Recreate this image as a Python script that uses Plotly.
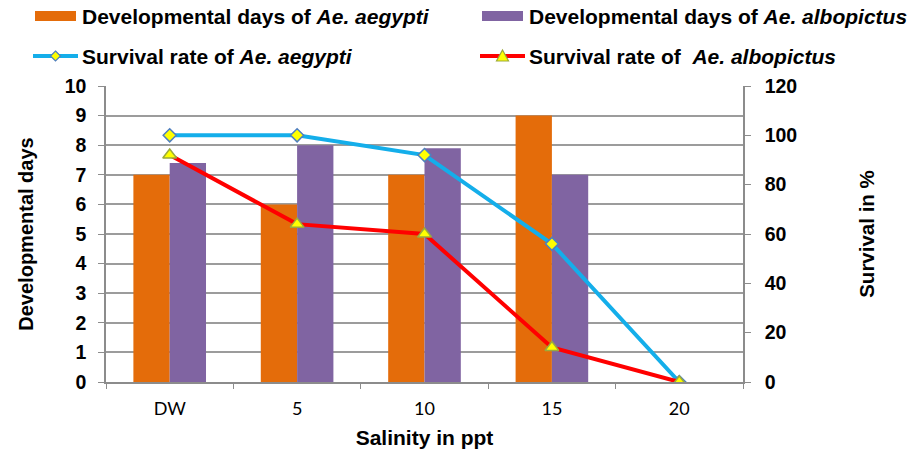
import plotly.graph_objects as go

# Salinity levels and measured values
salinity = ["DW", "5", "10", "15", "20"]
dev_days_aegypti = [7, 6, 7, 9, 0]
dev_days_albopictus = [7.4, 8, 7.9, 7, 0]
survival_aegypti = [100, 100, 92, 56, 0]
survival_albopictus = [92, 64, 60, 14, 0]

W, H = 917, 454
L, R, T, B = 106, 743, 86, 382

ORANGE = "#E46C0A"
PURPLE = "#8064A2"
BLUE = "#14AEEA"
RED = "#FF0000"
YELLOW = "#FFFF00"
GRID = "#9C9C9C"
AXIS = "#8C8C8C"
BOLD_FONT = "Liberation Sans"


def px(x):
    return (x - L) / (R - L)


def py(y):
    return (B - y) / (B - T)


fig = go.Figure()

fig.add_trace(go.Bar(
    x=salinity, y=dev_days_aegypti, name="Developmental days of Ae. aegypti",
    marker=dict(color=ORANGE, line=dict(width=0)), showlegend=False,
))
fig.add_trace(go.Bar(
    x=salinity, y=dev_days_albopictus, name="Developmental days of Ae. albopictus",
    marker=dict(color=PURPLE, line=dict(width=0)), showlegend=False,
))
fig.add_trace(go.Scatter(
    x=salinity, y=survival_aegypti, yaxis="y2", mode="lines+markers",
    name="Survival rate of Ae. aegypti",
    line=dict(color=BLUE, width=4),
    marker=dict(symbol="diamond", size=10, color=YELLOW,
                line=dict(color="#4F7FBF", width=1.5)),
    showlegend=False,
))
fig.add_trace(go.Scatter(
    x=salinity, y=survival_albopictus, yaxis="y2", mode="lines+markers",
    name="Survival rate of Ae. albopictus",
    line=dict(color=RED, width=4),
    marker=dict(symbol="triangle-up", size=12, color=YELLOW,
                line=dict(color="#9BAA3C", width=1.5)),
    showlegend=False,
))

# Legend drawn as swatches + labels above the plot
shapes = []
annotations = []
legend_rows = [
    (35, 80, 16, "bar", ORANGE, "Developmental days of <i>Ae. aegypti</i>"),
    (482, 527, 16, "bar", PURPLE, "Developmental days of <i>Ae. albopictus</i>"),
    (33, 80, 56, "diamond", BLUE, "Survival rate of <i>Ae. aegypti</i>"),
    (480, 527, 56, "triangle", RED, "Survival rate of  <i>Ae. albopictus</i>"),
]
for sx, tx, cy, kind, color, label in legend_rows:
    if kind == "bar":
        shapes.append(dict(type="rect", xref="paper", yref="paper",
                           x0=px(sx), x1=px(sx + 41), y0=py(cy + 5), y1=py(cy - 5),
                           fillcolor=color, line=dict(width=0), layer="above"))
    else:
        shapes.append(dict(type="line", xref="paper", yref="paper",
                           x0=px(sx), x1=px(sx + 45), y0=py(cy), y1=py(cy),
                           line=dict(color=color, width=4), layer="above"))
        cx = sx + 22.5
        if kind == "diamond":
            pts = [(cx, cy - 5), (cx + 5, cy), (cx, cy + 5), (cx - 5, cy)]
            edge = "#4F7FBF"
        else:
            pts = [(cx, cy - 6), (cx + 6, cy + 5), (cx - 6, cy + 5)]
            edge = "#9BAA3C"
        path = "M " + " L ".join(f"{px(a):.5f},{py(b):.5f}" for a, b in pts) + " Z"
        shapes.append(dict(type="path", xref="paper", yref="paper", path=path,
                           fillcolor=YELLOW, line=dict(color=edge, width=1.2),
                           layer="above"))
    annotations.append(dict(
        x=px(tx), y=py(cy), xref="paper", yref="paper",
        xanchor="left", yanchor="middle", showarrow=False,
        text=f"<b>{label}</b>",
        font=dict(family=BOLD_FONT, size=21, color="black"),
    ))

fig.update_layout(
    width=W, height=H,
    margin=dict(l=L, r=W - R, t=T, b=H - B, pad=0),
    paper_bgcolor="white", plot_bgcolor="white",
    barmode="group", bargap=0.43, bargroupgap=0,
    showlegend=False,
    shapes=shapes, annotations=annotations,
    xaxis=dict(
        type="category", showline=True, linecolor=AXIS, linewidth=1.5,
        ticks="outside", tickson="boundaries", ticklen=5, tickcolor=AXIS,
        ticklabelstandoff=10, automargin=False,
        tickfont=dict(family="Lato", size=18, color="black"),
        showgrid=False,
        title=dict(text="<b>Salinity in ppt</b>", standoff=12,
                   font=dict(family=BOLD_FONT, size=21, color="black")),
    ),
    yaxis=dict(
        range=[0, 10], dtick=1, showline=True, linecolor=AXIS, linewidth=1.5,
        ticks="outside", ticklen=6, tickcolor=AXIS, ticklabelstandoff=8,
        automargin=False,
        showgrid=True, gridcolor=GRID, gridwidth=1.5, zeroline=False,
        tickfont=dict(family=BOLD_FONT, size=19.5, color="black", weight="bold"),
        title=dict(text="<b>Developmental days</b>", standoff=26,
                   font=dict(family=BOLD_FONT, size=20, color="black")),
    ),
    yaxis2=dict(
        range=[0, 120], dtick=20, overlaying="y", side="right",
        showline=True, linecolor=AXIS, linewidth=1.5,
        ticks="outside", ticklen=6, tickcolor=AXIS, ticklabelstandoff=10,
        automargin=False,
        showgrid=False, zeroline=False,
        tickfont=dict(family=BOLD_FONT, size=19.5, color="black", weight="bold"),
        title=dict(text="<b>Survival in %</b>", standoff=63,
                   font=dict(family=BOLD_FONT, size=20.5, color="black")),
    ),
)

fig.write_html("out.html")
